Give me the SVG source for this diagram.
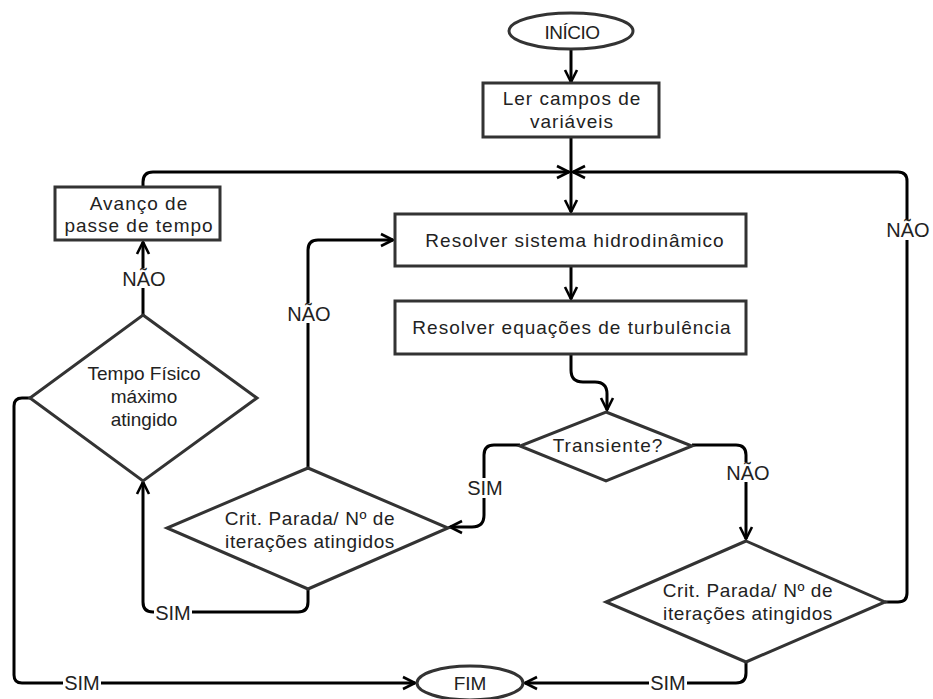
<svg xmlns="http://www.w3.org/2000/svg" width="933" height="699" viewBox="0 0 933 699">
<style>
.shape{fill:#fff;stroke:#333;stroke-width:3}
.conn{fill:none;stroke:#000;stroke-width:3}
.t{font-family:"Liberation Sans",Arial,sans-serif;font-size:19px;fill:#222;text-anchor:middle}
.ls{letter-spacing:1px}
.lbl{font-family:"Liberation Sans",Arial,sans-serif;font-size:20px;fill:#222;text-anchor:middle}
.bg{fill:#fff;stroke:none}
</style>
<defs>
<marker id="arr" viewBox="0 0 16 16" refX="14" refY="8" markerWidth="16" markerHeight="16" orient="auto" markerUnits="userSpaceOnUse">
<path d="M2,2 L14,8 L2,14" fill="none" stroke="#000" stroke-width="2.6"/>
</marker>
</defs>
<rect width="933" height="699" fill="#fff"/>

<g id="connectors">
<path class="conn" d="M571,49 V82" marker-end="url(#arr)"/>
<path class="conn" d="M571,137 V212" marker-end="url(#arr)"/>
<path class="conn" d="M143,187 V182 Q143,172 153,172 H569" marker-end="url(#arr)"/>
<path class="conn" d="M885,602 H898 Q907,602 907,593 V181 Q907,172 898,172 H573" marker-end="url(#arr)"/>
<path class="conn" d="M571,266 V299" marker-end="url(#arr)"/>
<path class="conn" d="M571,354 V370 Q571,382 583,382 H595 Q607,382 607,394 V410" marker-end="url(#arr)"/>
<path class="conn" d="M520,445 H494 Q484,445 484,455 V515 Q484,527 472,527 H450" marker-end="url(#arr)"/>
<path class="conn" d="M692,445 H736 Q746,445 746,455 V539" marker-end="url(#arr)"/>
<path class="conn" d="M308,468 V250 Q308,240 318,240 H393" marker-end="url(#arr)"/>
<path class="conn" d="M308,589 V602 Q308,612 298,612 H153 Q143,612 143,602 V482" marker-end="url(#arr)"/>
<path class="conn" d="M143,315 V242" marker-end="url(#arr)"/>
<path class="conn" d="M30,398 H22 Q14,398 14,406 V675 Q14,683 22,683 H415" marker-end="url(#arr)"/>
<path class="conn" d="M746,662 V673 Q746,683 736,683 H525" marker-end="url(#arr)"/>
</g>

<g id="labels">
<rect class="bg" x="121" y="268" width="45" height="20"/>
<text class="lbl" x="144" y="286">NÃO</text>
<rect class="bg" x="286" y="303" width="45" height="20"/>
<text class="lbl" x="309" y="321">NÃO</text>
<rect class="bg" x="885" y="220" width="46" height="20"/>
<text class="lbl" x="908" y="237">NÃO</text>
<rect class="bg" x="725" y="462" width="46" height="20"/>
<text class="lbl" x="748" y="480">NÃO</text>
<rect class="bg" x="466" y="478" width="38" height="20"/>
<text class="lbl" x="485" y="495">SIM</text>
<rect class="bg" x="154" y="602" width="38" height="20"/>
<text class="lbl" x="173" y="620">SIM</text>
<rect class="bg" x="63" y="673" width="38" height="20"/>
<text class="lbl" x="82" y="690">SIM</text>
<rect class="bg" x="649" y="673" width="38" height="20"/>
<text class="lbl" x="668" y="690">SIM</text>
</g>

<g id="inicio">
<ellipse class="shape" cx="571" cy="31" rx="62" ry="18"/>
<text class="t" x="572" y="39" style="letter-spacing:-0.5px">INÍCIO</text>
</g>

<g id="ler">
<rect class="shape" x="483" y="83" width="176" height="54"/>
<text class="t ls" x="572" y="105">Ler campos de</text>
<text class="t ls" x="572" y="128">variáveis</text>
</g>

<g id="avanco">
<rect class="shape" x="55" y="187" width="165" height="53"/>
<text class="t ls" x="139" y="210">Avanço de</text>
<text class="t ls" x="139" y="232">passe de tempo</text>
</g>

<g id="hidro">
<rect class="shape" x="395" y="214" width="351" height="52"/>
<text class="t ls" x="575" y="247">Resolver sistema hidrodinâmico</text>
</g>

<g id="turb">
<rect class="shape" x="395" y="301" width="351" height="53"/>
<text class="t ls" x="572" y="334">Resolver equações de turbulência</text>
</g>

<g id="transiente">
<polygon class="shape" points="606,412 692,446 606,481 520,446"/>
<text class="t ls" x="608" y="452">Transiente?</text>
</g>

<g id="tempo">
<polygon class="shape" points="143,315 257,398 143,481 30,398"/>
<text class="t" x="144" y="380">Tempo Físico</text>
<text class="t" x="144" y="403">máximo</text>
<text class="t" x="144" y="426">atingido</text>
</g>

<g id="crit1">
<polygon class="shape" points="308,468 448,528 308,589 167,528"/>
<text class="t" x="310" y="525" style="letter-spacing:0.6px">Crit. Parada/ Nº de</text>
<text class="t" x="310" y="548" style="letter-spacing:0.6px">iterações atingidos</text>
</g>

<g id="crit2">
<polygon class="shape" points="746,541 885,602 746,662 606,602"/>
<text class="t" x="748" y="597" style="letter-spacing:0.6px">Crit. Parada/ Nº de</text>
<text class="t" x="748" y="620" style="letter-spacing:0.6px">iterações atingidos</text>
</g>

<g id="fim">
<ellipse class="shape" cx="470" cy="683" rx="53" ry="17"/>
<text class="t" x="470" y="690">FIM</text>
</g>
</svg>
